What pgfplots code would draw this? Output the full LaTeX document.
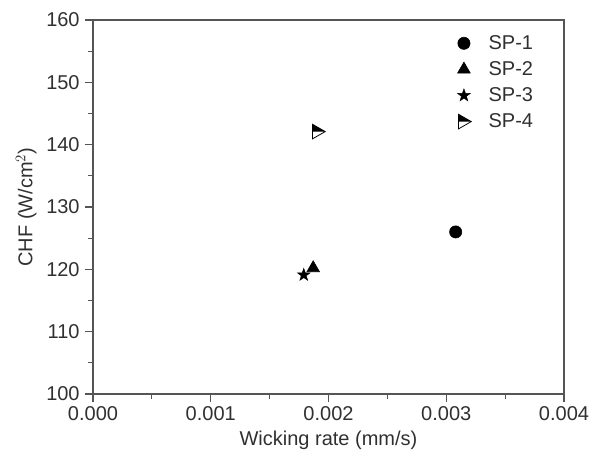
\documentclass[border=0pt]{standalone}
\usepackage{pgfplots}
\pgfplotsset{compat=1.18}
\usepackage{fontspec}
\setmainfont{Liberation Sans}
\definecolor{txt}{HTML}{303030}
\definecolor{axc}{HTML}{555555}
\pgfdeclareplotmark{halftri}{%
  \pgfpathmoveto{\pgfqpoint{-0.75\pgfplotmarksize}{\pgfplotmarksize}}%
  \pgfpathlineto{\pgfqpoint{\pgfplotmarksize}{0pt}}%
  \pgfpathlineto{\pgfqpoint{-0.75\pgfplotmarksize}{0pt}}%
  \pgfpathclose\pgfusepathqfill
  \pgfpathmoveto{\pgfqpoint{-0.75\pgfplotmarksize}{\pgfplotmarksize}}%
  \pgfpathlineto{\pgfqpoint{\pgfplotmarksize}{0pt}}%
  \pgfpathlineto{\pgfqpoint{-0.75\pgfplotmarksize}{-\pgfplotmarksize}}%
  \pgfpathclose\pgfusepathqstroke
}
\pgfdeclareplotmark{fstar}{%
  \pgfpathmoveto{\pgfqpointpolar{90}{\pgfplotmarksize}}%
  \pgfpathlineto{\pgfqpointpolar{126}{0.4\pgfplotmarksize}}%
  \pgfpathlineto{\pgfqpointpolar{162}{\pgfplotmarksize}}%
  \pgfpathlineto{\pgfqpointpolar{198}{0.4\pgfplotmarksize}}%
  \pgfpathlineto{\pgfqpointpolar{234}{\pgfplotmarksize}}%
  \pgfpathlineto{\pgfqpointpolar{270}{0.4\pgfplotmarksize}}%
  \pgfpathlineto{\pgfqpointpolar{306}{\pgfplotmarksize}}%
  \pgfpathlineto{\pgfqpointpolar{342}{0.4\pgfplotmarksize}}%
  \pgfpathlineto{\pgfqpointpolar{18}{\pgfplotmarksize}}%
  \pgfpathlineto{\pgfqpointpolar{54}{0.4\pgfplotmarksize}}%
  \pgfpathclose\pgfusepathqfillstroke
}
\begin{document}
\begin{tikzpicture}
\begin{axis}[
  name=ax,
  scale only axis,
  width=353.25pt, height=280.5pt,
  xmin=0, xmax=0.004, ymin=100, ymax=160,
  xtick={0,0.001,0.002,0.003,0.004},
  ytick={100,110,120,130,140,150,160},
  minor x tick num=1, minor y tick num=1,
  tick align=outside, tick pos=left,
  major tick length=6pt, minor tick length=3.5pt,
  axis line style={axc, line width=1.1pt},
  every tick/.style={axc, line width=0.9pt},
  scaled x ticks=false,
  xticklabel style={/pgf/number format/.cd, fixed, fixed zerofill, precision=3},
  /pgf/number format/assume math mode=true,
  ticklabel style={font=\fontsize{15}{17}\selectfont, text=txt},
  yticklabel style={xshift=-0.5pt},
  label style={font=\fontsize{15}{17}\selectfont, text=txt},
  xlabel={Wicking rate (mm/s)},
  ylabel={CHF (W/cm$^2$)},
  xlabel style={at={(axis description cs:0.5,0)}, anchor=center, yshift=-34.5pt},
  ylabel style={at={(axis description cs:0,0.5)}, anchor=center, yshift=50pt},
  legend style={draw=none, fill=none, at={(0.765,0.974)}, anchor=north west,
    font=\fontsize{15}{17}\selectfont, text=txt, row sep=3.6pt, column sep=11pt},
  legend cell align=left,
]
\addplot[only marks, mark=*, mark size=4.6pt, black] coordinates {(0.00308,126)};
\addlegendentry{SP-1}
\addplot[only marks, mark=triangle*, mark size=5.5pt, black] coordinates {(0.00187,120.2)};
\addlegendentry{SP-2}
\addplot[only marks, mark=fstar, mark size=5pt, black, mark options={fill=black, line width=0.3pt}] coordinates {(0.00179,119.1)};
\addlegendentry{SP-3}
\addplot[only marks, mark=halftri, mark size=5.5pt, black, mark options={line width=0.6pt}] coordinates {(0.00191,142.1)};
\addlegendentry{SP-4}
\end{axis}
\path ([shift={(-69.75pt,-48.75pt)}]ax.south west) rectangle ([shift={(23.25pt,15pt)}]ax.north east);
\end{tikzpicture}
\end{document}
